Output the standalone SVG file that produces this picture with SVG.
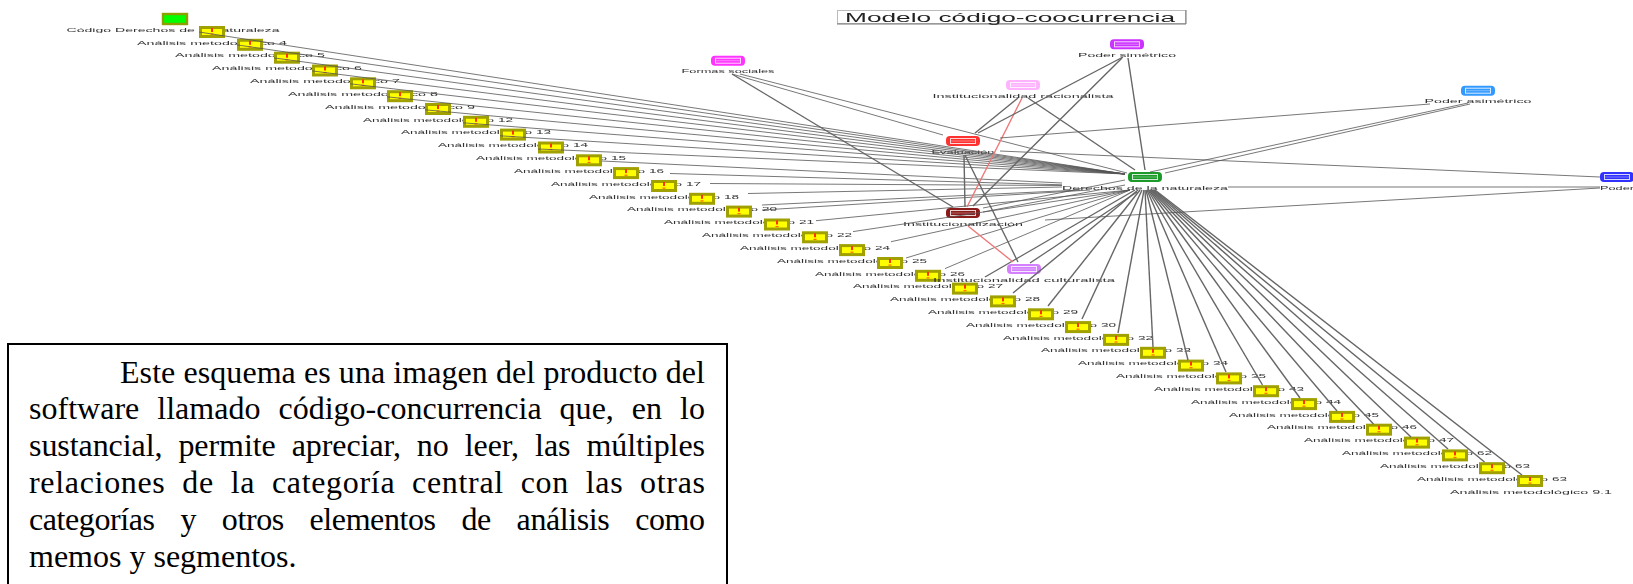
<svg xmlns="http://www.w3.org/2000/svg" xmlns:xlink="http://www.w3.org/1999/xlink" width="1633" height="584" viewBox="0 0 1633 584">
<style>
.l{font-family:"Liberation Sans",Arial,sans-serif;font-size:5.6px;fill:#333;text-anchor:middle}
.p{font-family:"Liberation Serif","Times New Roman",serif;font-size:32px;fill:#000}
.t{font-family:"Liberation Sans",Arial,sans-serif;font-size:12px;fill:#222}
.c line{stroke:#555;stroke-width:.8;fill:none}
.c line.k{stroke:#666;stroke-width:1.4}
.c line.r{stroke:#ee7777;stroke-width:1.4}
</style>
<defs>
<filter id="b" x="-2%" y="-2%" width="104%" height="104%"><feGaussianBlur stdDeviation="0.55"/></filter>
<g id="memo"><rect x="-11.5" y="-4.5" width="23" height="9" fill="#ffff00" stroke="#a0a000" stroke-width="3"/><rect x="-1" y="-4" width="2" height="4" fill="#ff3300"/><rect x="-1.5" y="1.5" width="3" height="1.2" fill="#ff6600"/></g>
<g id="cat"><rect x="-16" y="-4" width="32" height="8" rx="3" fill="currentColor" stroke="currentColor" stroke-width="2"/><rect x="-12.5" y="-2.5" width="25" height="5" fill="currentColor" stroke="#fff" stroke-opacity=".8" stroke-width="1"/><line x1="-12" x2="12" y1="0" y2="0" stroke="#fff" stroke-opacity=".35"/></g>
</defs>
<rect width="1633" height="584" fill="#fff"/>
<g filter="url(#b)">
<g id="titulo"><rect x="837.5" y="10.5" width="348" height="13" fill="#fff" stroke="#bbb"/><path d="M837 24H1186V10" fill="none" stroke="#777"/><text class="t" x="845" y="21.5" textLength="330" lengthAdjust="spacingAndGlyphs">Modelo código-coocurrencia</text></g>
<g id="codigo"><rect x="163" y="14" width="24" height="10" fill="#00ff00" stroke="#8f9f00" stroke-width="2.4"/><text class="l" x="173" y="31.5" textLength="213" lengthAdjust="spacingAndGlyphs">Código Derechos de la naturaleza</text></g>
<g id="m0"><use href="#memo" x="212" y="32"/><text class="l" x="212" y="44.5" textLength="150" lengthAdjust="spacingAndGlyphs">Análisis metodológico 4</text></g>
<g id="m1"><use href="#memo" x="250" y="44.8"/><text class="l" x="250" y="57.3" textLength="150" lengthAdjust="spacingAndGlyphs">Análisis metodológico 5</text></g>
<g id="m2"><use href="#memo" x="287" y="57.7"/><text class="l" x="287" y="70.2" textLength="150" lengthAdjust="spacingAndGlyphs">Análisis metodológico 6</text></g>
<g id="m3"><use href="#memo" x="325" y="70.5"/><text class="l" x="325" y="83" textLength="150" lengthAdjust="spacingAndGlyphs">Análisis metodológico 7</text></g>
<g id="m4"><use href="#memo" x="363" y="83.3"/><text class="l" x="363" y="95.8" textLength="150" lengthAdjust="spacingAndGlyphs">Análisis metodológico 8</text></g>
<g id="m5"><use href="#memo" x="400" y="96.2"/><text class="l" x="400" y="108.7" textLength="150" lengthAdjust="spacingAndGlyphs">Análisis metodológico 9</text></g>
<g id="m6"><use href="#memo" x="438" y="109"/><text class="l" x="438" y="121.5" textLength="150" lengthAdjust="spacingAndGlyphs">Análisis metodológico 12</text></g>
<g id="m7"><use href="#memo" x="476" y="121.8"/><text class="l" x="476" y="134.3" textLength="150" lengthAdjust="spacingAndGlyphs">Análisis metodológico 13</text></g>
<g id="m8"><use href="#memo" x="513" y="134.6"/><text class="l" x="513" y="147.1" textLength="150" lengthAdjust="spacingAndGlyphs">Análisis metodológico 14</text></g>
<g id="m9"><use href="#memo" x="551" y="147.5"/><text class="l" x="551" y="160" textLength="150" lengthAdjust="spacingAndGlyphs">Análisis metodológico 15</text></g>
<g id="m10"><use href="#memo" x="589" y="160.3"/><text class="l" x="589" y="172.8" textLength="150" lengthAdjust="spacingAndGlyphs">Análisis metodológico 16</text></g>
<g id="m11"><use href="#memo" x="626" y="173.1"/><text class="l" x="626" y="185.6" textLength="150" lengthAdjust="spacingAndGlyphs">Análisis metodológico 17</text></g>
<g id="m12"><use href="#memo" x="664" y="186"/><text class="l" x="664" y="198.5" textLength="150" lengthAdjust="spacingAndGlyphs">Análisis metodológico 18</text></g>
<g id="m13"><use href="#memo" x="702" y="198.8"/><text class="l" x="702" y="211.3" textLength="150" lengthAdjust="spacingAndGlyphs">Análisis metodológico 20</text></g>
<g id="m14"><use href="#memo" x="739" y="211.6"/><text class="l" x="739" y="224.1" textLength="150" lengthAdjust="spacingAndGlyphs">Análisis metodológico 21</text></g>
<g id="m15"><use href="#memo" x="777" y="224.5"/><text class="l" x="777" y="237" textLength="150" lengthAdjust="spacingAndGlyphs">Análisis metodológico 22</text></g>
<g id="m16"><use href="#memo" x="815" y="237.3"/><text class="l" x="815" y="249.8" textLength="150" lengthAdjust="spacingAndGlyphs">Análisis metodológico 24</text></g>
<g id="m17"><use href="#memo" x="852" y="250.1"/><text class="l" x="852" y="262.6" textLength="150" lengthAdjust="spacingAndGlyphs">Análisis metodológico 25</text></g>
<g id="m18"><use href="#memo" x="890" y="263"/><text class="l" x="890" y="275.5" textLength="150" lengthAdjust="spacingAndGlyphs">Análisis metodológico 26</text></g>
<g id="m19"><use href="#memo" x="928" y="275.8"/><text class="l" x="928" y="288.3" textLength="150" lengthAdjust="spacingAndGlyphs">Análisis metodológico 27</text></g>
<g id="m20"><use href="#memo" x="965" y="288.6"/><text class="l" x="965" y="301.1" textLength="150" lengthAdjust="spacingAndGlyphs">Análisis metodológico 28</text></g>
<g id="m21"><use href="#memo" x="1003" y="301.4"/><text class="l" x="1003" y="313.9" textLength="150" lengthAdjust="spacingAndGlyphs">Análisis metodológico 29</text></g>
<g id="m22"><use href="#memo" x="1041" y="314.3"/><text class="l" x="1041" y="326.8" textLength="150" lengthAdjust="spacingAndGlyphs">Análisis metodológico 30</text></g>
<g id="m23"><use href="#memo" x="1078" y="327.1"/><text class="l" x="1078" y="339.6" textLength="150" lengthAdjust="spacingAndGlyphs">Análisis metodológico 32</text></g>
<g id="m24"><use href="#memo" x="1116" y="339.9"/><text class="l" x="1116" y="352.4" textLength="150" lengthAdjust="spacingAndGlyphs">Análisis metodológico 33</text></g>
<g id="m25"><use href="#memo" x="1153" y="352.8"/><text class="l" x="1153" y="365.3" textLength="150" lengthAdjust="spacingAndGlyphs">Análisis metodológico 34</text></g>
<g id="m26"><use href="#memo" x="1191" y="365.6"/><text class="l" x="1191" y="378.1" textLength="150" lengthAdjust="spacingAndGlyphs">Análisis metodológico 35</text></g>
<g id="m27"><use href="#memo" x="1229" y="378.4"/><text class="l" x="1229" y="390.9" textLength="150" lengthAdjust="spacingAndGlyphs">Análisis metodológico 43</text></g>
<g id="m28"><use href="#memo" x="1266" y="391.2"/><text class="l" x="1266" y="403.7" textLength="150" lengthAdjust="spacingAndGlyphs">Análisis metodológico 44</text></g>
<g id="m29"><use href="#memo" x="1304" y="404.1"/><text class="l" x="1304" y="416.6" textLength="150" lengthAdjust="spacingAndGlyphs">Análisis metodológico 45</text></g>
<g id="m30"><use href="#memo" x="1342" y="416.9"/><text class="l" x="1342" y="429.4" textLength="150" lengthAdjust="spacingAndGlyphs">Análisis metodológico 46</text></g>
<g id="m31"><use href="#memo" x="1379" y="429.7"/><text class="l" x="1379" y="442.2" textLength="150" lengthAdjust="spacingAndGlyphs">Análisis metodológico 47</text></g>
<g id="m32"><use href="#memo" x="1417" y="442.6"/><text class="l" x="1417" y="455.1" textLength="150" lengthAdjust="spacingAndGlyphs">Análisis metodológico 62</text></g>
<g id="m33"><use href="#memo" x="1455" y="455.4"/><text class="l" x="1455" y="467.9" textLength="150" lengthAdjust="spacingAndGlyphs">Análisis metodológico 63</text></g>
<g id="m34"><use href="#memo" x="1492" y="468.2"/><text class="l" x="1492" y="480.7" textLength="150" lengthAdjust="spacingAndGlyphs">Análisis metodológico 63</text></g>
<g id="m35"><use href="#memo" x="1530" y="481"/><text class="l" x="1531" y="493.5" textLength="162" lengthAdjust="spacingAndGlyphs">Análisis metodológico 9.1</text></g>
<g id="formas"><use href="#cat" x="728" y="60.7" color="#ff33ff"/><text class="l" x="728" y="73" textLength="93" lengthAdjust="spacingAndGlyphs">Formas sociales</text></g>
<g id="poder-simetrico"><use href="#cat" x="1127" y="44.3" color="#cc33ff"/><text class="l" x="1127" y="56.8" textLength="98" lengthAdjust="spacingAndGlyphs">Poder simétrico</text></g>
<g id="inst-racionalista"><use href="#cat" x="1023" y="85" color="#ffb3ff"/><text class="l" x="1023" y="97.5" textLength="181" lengthAdjust="spacingAndGlyphs">Institucionalidad racionalista</text></g>
<g id="evaluacion"><use href="#cat" x="963" y="141" color="#ff3333"/><text class="l" x="963" y="153.5" textLength="63" lengthAdjust="spacingAndGlyphs">Evaluación</text></g>
<g id="institucionalizacion"><use href="#cat" x="963" y="213" color="#8b1a1a"/><text class="l" x="963" y="225.5" textLength="120" lengthAdjust="spacingAndGlyphs">Institucionalización</text></g>
<g id="inst-culturalista"><use href="#cat" x="1024" y="269" color="#d580ff"/><text class="l" x="1024" y="281.5" textLength="182" lengthAdjust="spacingAndGlyphs">Institucionalidad culturalista</text></g>
<g id="derechos"><use href="#cat" x="1145" y="177" color="#1a9a2a"/><text class="l" x="1145" y="189.5" textLength="166" lengthAdjust="spacingAndGlyphs">Derechos de la naturaleza</text></g>
<g id="poder-asimetrico"><use href="#cat" x="1478" y="90.7" color="#3399ff"/><text class="l" x="1478" y="103.2" textLength="107" lengthAdjust="spacingAndGlyphs">Poder asimétrico</text></g>
<g id="poder"><use href="#cat" x="1617" y="177" color="#3333ff"/><text class="l" x="1617" y="189.5" textLength="34" lengthAdjust="spacingAndGlyphs">Poder</text></g>
<g id="connectors" class="c">
<line x1="199" y1="32" x2="1125" y2="174"/>
<line x1="237" y1="44.9" x2="1125" y2="174"/>
<line x1="274" y1="57.9" x2="1125" y2="174"/>
<line x1="312" y1="70.9" x2="1125" y2="174"/>
<line x1="350" y1="83.8" x2="1125" y2="174"/>
<line x1="387" y1="96.8" x2="1125" y2="174"/>
<line x1="425" y1="109.8" x2="1125" y2="174"/>
<line x1="463" y1="122.8" x2="1125" y2="174"/>
<line x1="500" y1="135.8" x2="1125" y2="174"/>
<line x1="538" y1="149" x2="1125" y2="174"/>
<line x1="602" y1="161" x2="1062" y2="183"/>
<line x1="670" y1="173.5" x2="1062" y2="184.8"/>
<line x1="710" y1="183.5" x2="1062" y2="185.5"/>
<line x1="748" y1="193.5" x2="1062" y2="187"/>
<line x1="762" y1="205" x2="1080" y2="190"/>
<line x1="762" y1="210" x2="1090" y2="190"/>
<line x1="816" y1="220.7" x2="1130" y2="190"/>
<line x1="853" y1="231.6" x2="1130" y2="190"/>
<line x1="891" y1="241.7" x2="1130" y2="190"/>
<line x1="906" y1="258" x2="1130" y2="190"/>
<line x1="945" y1="268.6" x2="1130" y2="190"/>
<line class="k" x1="985" y1="277" x2="1135" y2="190"/>
<line class="k" x1="1013" y1="293" x2="1138" y2="190"/>
<line class="k" x1="1048" y1="306" x2="1140" y2="190"/>
<line class="k" x1="1082" y1="319" x2="1142" y2="190"/>
<line class="k" x1="1118" y1="333" x2="1144" y2="190"/>
<line class="k" x1="1153" y1="347" x2="1145" y2="190"/>
<line class="k" x1="1188" y1="360" x2="1146" y2="190"/>
<line class="k" x1="1226" y1="372" x2="1147" y2="190"/>
<line class="k" x1="1262.5" y1="385" x2="1148" y2="190"/>
<line class="k" x1="1300" y1="398" x2="1149" y2="190"/>
<line class="k" x1="1337" y1="411" x2="1150" y2="190"/>
<line class="k" x1="1373.5" y1="424" x2="1151" y2="190"/>
<line class="k" x1="1411" y1="437" x2="1152" y2="190"/>
<line class="k" x1="1448" y1="449" x2="1153" y2="190"/>
<line class="k" x1="1484.5" y1="462" x2="1154" y2="190"/>
<line class="k" x1="1522" y1="475" x2="1155" y2="190"/>
<line x1="732" y1="74" x2="943" y2="135"/>
<line x1="740" y1="74" x2="1127" y2="173"/>
<line class="k" x1="732" y1="74" x2="953" y2="207"/>
<line class="k" x1="1018" y1="98" x2="975" y2="133"/>
<line class="r" x1="1022" y1="98" x2="967" y2="207"/>
<line class="k" x1="1028" y1="98" x2="1135" y2="170"/>
<line class="k" x1="1123" y1="57" x2="978" y2="133"/>
<line class="k" x1="1122" y1="58" x2="973" y2="206"/>
<line class="k" x1="1128" y1="58" x2="1145" y2="170"/>
<line class="k" x1="964" y1="155" x2="965" y2="207"/>
<line class="k" x1="965" y1="155" x2="1018" y2="262"/>
<line class="r" x1="968" y1="226" x2="1013" y2="262"/>
<line x1="983" y1="208" x2="1125" y2="180"/>
<line x1="983" y1="212" x2="1125" y2="185"/>
<line class="k" x1="1030" y1="263" x2="1137" y2="192"/>
<line x1="1468" y1="103" x2="1150" y2="172"/>
<line x1="1470" y1="104" x2="1165" y2="173"/>
<line x1="1430" y1="104" x2="1000" y2="138"/>
<line x1="1600" y1="177" x2="1000" y2="151"/>
<line x1="1228" y1="187" x2="1600" y2="187"/>
<line x1="1600" y1="188" x2="1045" y2="220"/>
</g>
</g>
<g id="nota">
<rect x="8" y="344" width="719" height="260" fill="#fff" stroke="#000" stroke-width="2"/>
<text class="p" x="120" y="382.7" textLength="585">Este esquema es una imagen del producto del</text>
<text class="p" x="29" y="419.3" word-spacing="10" textLength="676">software llamado código-concurrencia que, en lo</text>
<text class="p" x="29" y="456" word-spacing="8.1" textLength="676">sustancial, permite apreciar, no leer, las múltiples</text>
<text class="p" x="29" y="493.3" word-spacing="8.1" textLength="676">relaciones de la categoría central con las otras</text>
<text class="p" x="29" y="530" word-spacing="18.2" textLength="676">categorías y otros elementos de análisis como</text>
<text class="p" x="29" y="566.7">memos y segmentos.</text>
</g>
</svg>
